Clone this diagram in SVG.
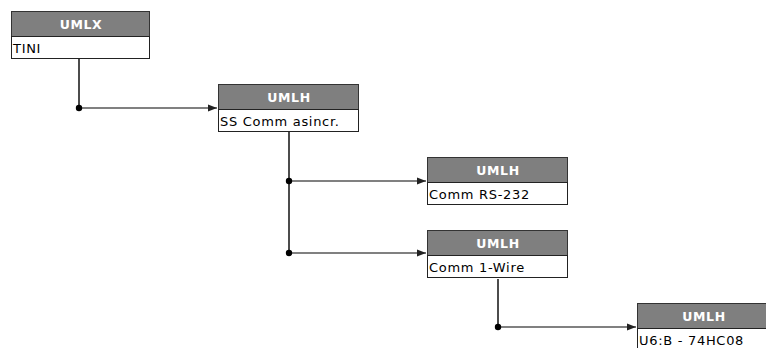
<svg xmlns="http://www.w3.org/2000/svg" width="766" height="348" viewBox="0 0 766 348">
<style>
.hdr{fill:#7f7f7f;stroke:#333;stroke-width:1}
.body{fill:#fff;stroke:#222;stroke-width:1}
.ht{font-family:"DejaVu Sans","Liberation Sans",sans-serif;font-size:12.5px;font-weight:bold;fill:#fff;text-anchor:middle;letter-spacing:0.6px}
.bt{font-family:"DejaVu Sans","Liberation Sans",sans-serif;font-size:13px;fill:#000;letter-spacing:0.7px}
.v{stroke:#111;stroke-width:1.5;fill:none}
.h{stroke:#808080;stroke-width:2;fill:none}
.dot{fill:#000}
</style>
<defs>
<marker id="arr" markerWidth="10" markerHeight="8" refX="9" refY="4" orient="auto" markerUnits="userSpaceOnUse">
<path d="M0,0.5 L9,4 L0,7.5 Z" fill="#222"/>
</marker>
</defs>
<rect width="766" height="348" fill="#fff"/>
<g id="connectors">
<path class="v" d="M79,59 V108"/>
<path class="h" d="M79,108 H217" marker-end="url(#arr)"/>
<circle class="dot" cx="79" cy="108" r="3.2"/>
<path class="v" d="M289,132 V253"/>
<path class="h" d="M289,181 H426" marker-end="url(#arr)"/>
<circle class="dot" cx="289" cy="181" r="3.2"/>
<path class="h" d="M289,253 H426" marker-end="url(#arr)"/>
<circle class="dot" cx="289" cy="253" r="3.2"/>
<path class="v" d="M498,279 V327"/>
<path class="h" d="M498,327 H636" marker-end="url(#arr)"/>
<circle class="dot" cx="498" cy="327" r="3.2"/>
</g>
<g id="n1">
<rect class="hdr" x="11.5" y="11.5" width="138" height="25"/>
<rect class="body" x="11.5" y="36.5" width="138" height="22"/>
<text class="ht" x="81" y="29">UMLX</text>
<text class="bt" x="13" y="52.5">TINI</text>
</g>
<g id="n2">
<rect class="hdr" x="218.5" y="84.5" width="140" height="25"/>
<rect class="body" x="218.5" y="109.5" width="140" height="22"/>
<text class="ht" x="289" y="102">UMLH</text>
<text class="bt" x="220" y="126">SS Comm asincr.</text>
</g>
<g id="n3">
<rect class="hdr" x="427.5" y="157.5" width="140" height="25"/>
<rect class="body" x="427.5" y="182.5" width="140" height="22"/>
<text class="ht" x="498" y="175">UMLH</text>
<text class="bt" x="429" y="199">Comm RS-232</text>
</g>
<g id="n4">
<rect class="hdr" x="427.5" y="230.5" width="140" height="25"/>
<rect class="body" x="427.5" y="255.5" width="140" height="22"/>
<text class="ht" x="498" y="248">UMLH</text>
<text class="bt" x="429" y="272">Comm 1-Wire</text>
</g>
<g id="n5">
<rect class="hdr" x="637.5" y="303.5" width="140" height="25"/>
<rect class="body" x="637.5" y="328.5" width="140" height="22"/>
<text class="ht" x="704" y="321">UMLH</text>
<text class="bt" x="639" y="345">U6:B - 74HC08</text>
</g>
</svg>
